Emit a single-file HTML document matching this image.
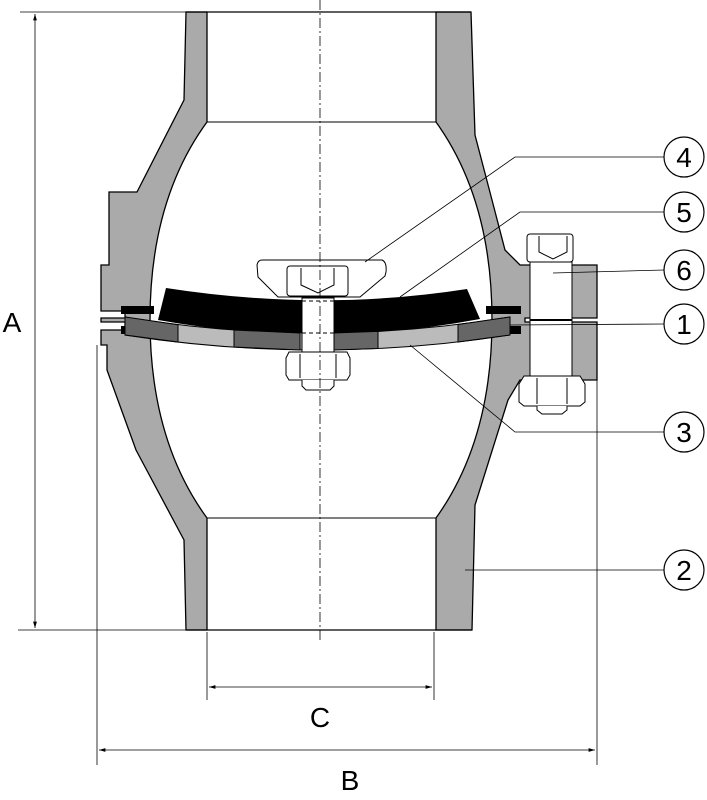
<!DOCTYPE html>
<html><head><style>body{margin:0;background:#fff}svg{display:block}text{font-family:"Liberation Sans",sans-serif}</style></head><body>
<svg width="707" height="800" viewBox="0 0 707 800" xmlns="http://www.w3.org/2000/svg">
<defs><marker id="ar" viewBox="0 0 10 10" refX="10" refY="5" markerWidth="8" markerHeight="8" orient="auto-start-reverse"><path d="M0,2L10,5L0,8z" fill="#000"/></marker></defs>
<g stroke="#000" stroke-width="1.3" fill="#aaa">
<path d="M186,12 L184,100 L137,192 L109,192 L109,265 L101,265 L101,311 L125,311 L125,318 L101,318 L101,322 L125,322 L125,330 L101,330 L101,345 L107,345 L107,370 L136,450 L184,540 L186,630 L207,630 L207,518 Q150,440 150,320 Q150,200 207,122 L207,12 Z"/>
<path d="M471,12 L475,135 L492,200 L505,250 L520,265 L597,265 L597,318 L525,318 L525,322 L597,322 L597,380 L520,380 L508,400 L475,505 L472,630 L436,630 L436,518 Q492,440 492,320 Q492,200 436,122 L436,12 Z"/>
</g>
<line x1="186" y1="12" x2="471" y2="12" stroke="#000" stroke-width="1.3"/>
<line x1="207" y1="122" x2="436" y2="122" stroke="#000" stroke-width="1"/>
<line x1="207" y1="518" x2="436" y2="518" stroke="#000" stroke-width="1"/>
<line x1="186" y1="630" x2="472" y2="630" stroke="#000" stroke-width="1.3"/>
<rect x="121" y="306" width="33" height="8" fill="#000"/>
<rect x="121" y="326" width="33" height="8" fill="#000"/>
<rect x="486" y="306" width="35" height="8" fill="#000"/>
<rect x="486" y="326" width="35" height="8" fill="#000"/>
<!-- black disk -->
<path d="M166,288 Q320,312 467,289 L480,319 Q320,349 158,320 Z" fill="#000"/>
<!-- grey band -->
<path d="M125,317 Q317,349 510,317 L510,335 Q317,365 125,335 Z" fill="#bbb" stroke="#000"/>
<path d="M125,317 L178,324.7 L178,342 L125,335Z" fill="#666" stroke="#000"/>
<path d="M234,330 L300,333 L300,350 L234,347Z" fill="#666" stroke="#000"/>
<path d="M333,333 L378,331.4 L378,348.5 L333,350Z" fill="#666" stroke="#000"/>
<path d="M458,324.5 L510,317 L510,335 L458,342Z" fill="#666" stroke="#000"/>
<rect x="302" y="298" width="32" height="54" fill="#fff" stroke="#000"/>
<line x1="302" y1="301" x2="334" y2="301" stroke="#000" stroke-dasharray="4,3"/>
<line x1="302" y1="333" x2="334" y2="333" stroke="#000" stroke-dasharray="4,3"/>
<path d="M262,260 L382,260 Q387,262 386,272 L385,276 L360,297 L278,297 L258,277 L257,265 Q258,260 262,260Z" fill="#fff" stroke="#000"/>
<rect x="287" y="266" width="61" height="30" rx="3" fill="#fff" stroke="#000"/>
<path d="M301,268 L301,285 L318,293 L334,285 L334,268" fill="none" stroke="#000"/>
<path d="M289,352 L347,352 L350,358 L350,375 L347,380 L289,380 L286,375 L286,358Z" fill="#fff" stroke="#000"/>
<line x1="300" y1="354" x2="300" y2="378" stroke="#000"/><line x1="336" y1="354" x2="336" y2="378" stroke="#000"/>
<path d="M302,380 L302,386 L306,390 L330,390 L334,386 L334,380" fill="#fff" stroke="#000"/>
<rect x="530" y="262" width="42" height="116" fill="#fff" stroke="#000"/>
<line x1="530" y1="320" x2="572" y2="320" stroke="#000" stroke-width="2"/>
<rect x="527" y="234" width="46" height="28" rx="3" fill="#fff" stroke="#000"/>
<path d="M539,236 L539,252 L553,259 L567,252 L567,236" fill="none" stroke="#000"/>
<path d="M524,376 L580,376 L585,384 L585,402 L580,406 L524,406 L519,402 L519,384Z" fill="#fff" stroke="#000"/>
<line x1="537" y1="378" x2="537" y2="404" stroke="#000"/><line x1="567" y1="378" x2="567" y2="404" stroke="#000"/>
<path d="M537,406 L537,410 L542,414 L562,414 L567,410 L567,406" fill="#fff" stroke="#000"/>
<line x1="320" y1="0" x2="320" y2="640" stroke="#000" stroke-width="0.8" stroke-dasharray="10,3,2,3"/>
<g stroke="#000" stroke-width="0.8" fill="none">
<polyline points="365,262 515,157 664,157"/>
<polyline points="400,297 520,212 664,212"/>
<polyline points="553,273 664,270"/>
<polyline points="510,325 664,324"/>
<polyline points="410,345 515,432 664,432"/>
<polyline points="465,570 664,570"/>
</g>
<g fill="#fff" stroke="#000" stroke-width="1.2">
<circle cx="684" cy="157" r="20"/><circle cx="684" cy="212" r="20"/><circle cx="684" cy="270" r="20"/>
<circle cx="684" cy="324" r="20"/><circle cx="684" cy="432" r="20"/><circle cx="684" cy="570" r="20"/>
</g>
<g font-size="28" text-anchor="middle">
<text x="684" y="167">4</text><text x="684" y="222">5</text><text x="684" y="280">6</text>
<text x="684" y="334">1</text><text x="684" y="442">3</text><text x="684" y="580">2</text>
</g>
<g stroke="#000" stroke-width="0.8">
<line x1="20" y1="12" x2="186" y2="12"/><line x1="18" y1="630" x2="186" y2="630"/>
<line x1="35" y1="14" x2="35" y2="628" marker-start="url(#ar)" marker-end="url(#ar)"/>
<line x1="97" y1="345" x2="97" y2="765"/><line x1="597" y1="380" x2="597" y2="765"/>
<line x1="99" y1="750" x2="595" y2="750" marker-start="url(#ar)" marker-end="url(#ar)"/>
<line x1="207" y1="632" x2="207" y2="700"/><line x1="434" y1="632" x2="434" y2="700"/>
<line x1="209" y1="687" x2="432" y2="687" marker-start="url(#ar)" marker-end="url(#ar)"/>
</g>
<g font-size="28" text-anchor="middle">
<text x="12" y="332">A</text><text x="350" y="790">B</text><text x="320" y="727">C</text>
</g>
</svg>
</body></html>
